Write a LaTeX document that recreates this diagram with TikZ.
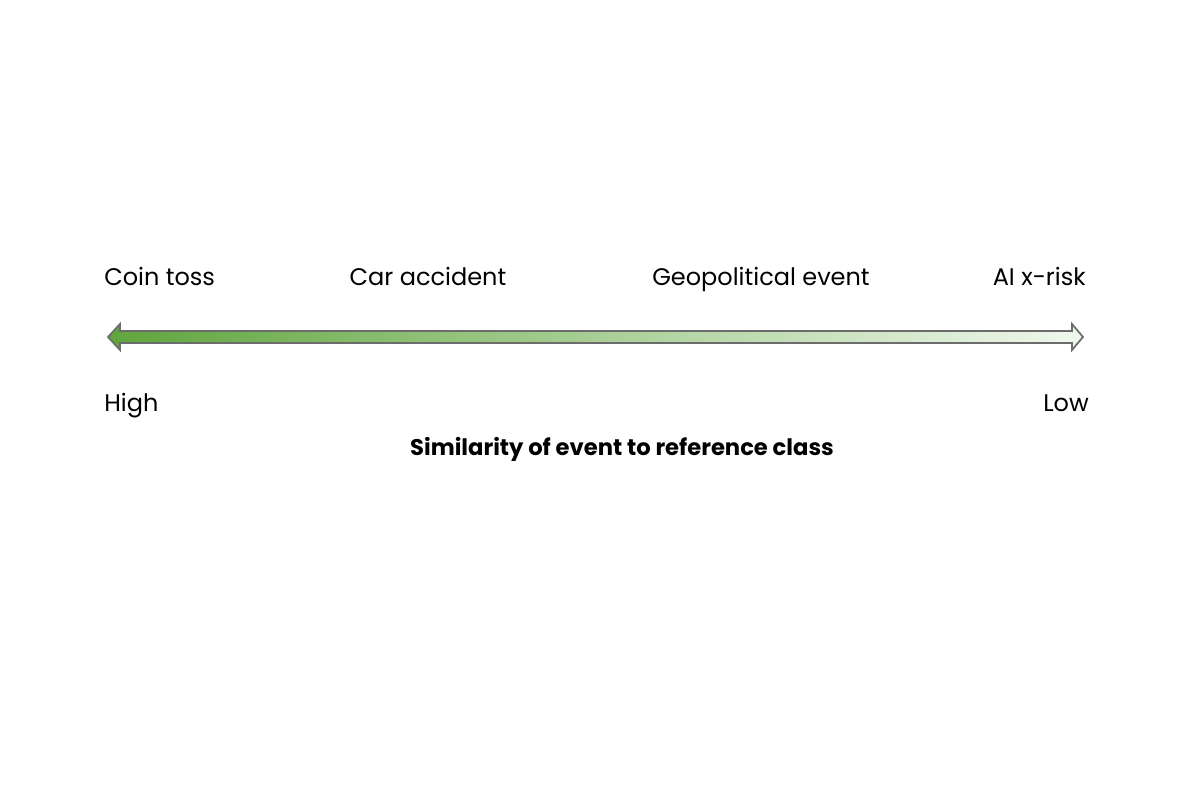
\documentclass[tikz,border=0pt]{standalone}
\usepackage{fontspec}
\setmainfont{Poppins}
\definecolor{gA}{RGB}{95,165,60}
\definecolor{gB}{RGB}{240,248,238}
\begin{document}
\begin{tikzpicture}[x=0.75pt,y=-0.75pt,
  lbl/.style={inner sep=0pt,font=\fontsize{18}{20}\selectfont},
  ttl/.style={inner sep=0pt,font=\fontsize{17}{20}\selectfont\bfseries}]
\useasboundingbox (0,0) rectangle (1200,788);
\coordinate (L) at (108,337);
\coordinate (R) at (1083,337);
\draw[draw=gray!85!black,line width=1.3pt,left color=gA,right color=gB]
  (L) -- (120,324) -- (120,331) -- (1072,331) -- (1072,324) -- (R)
  -- (1072,350) -- (1072,343) -- (120,343) -- (120,350) -- cycle;
\node[lbl,anchor=base west] (coin) at (104,285) {Coin toss};
\node[lbl,anchor=base] (car) at (428,285) {Car accident};
\node[lbl,anchor=base] (geo) at (761,285) {Geopolitical event};
\node[lbl,anchor=base east] (ai) at (1086,285) {AI x-risk};
\node[lbl,anchor=base west] (high) at (104,411) {High};
\node[lbl,anchor=base east] (low) at (1089,411) {Low};
\node[ttl,anchor=base] (title) at (622,455) {Similarity of event to reference class};
\end{tikzpicture}
\end{document}
